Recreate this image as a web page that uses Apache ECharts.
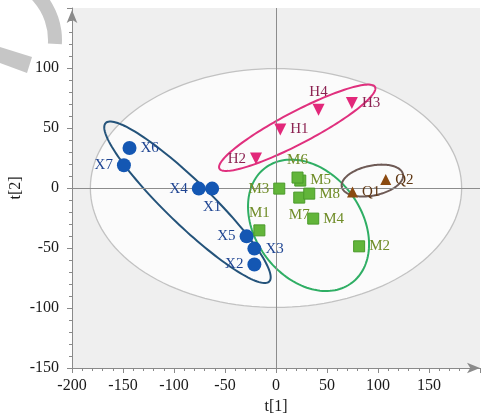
<!DOCTYPE html>
<html>
<head>
<meta charset="utf-8">
<script src="https://cdn.jsdelivr.net/npm/echarts@6/dist/echarts.min.js"></script>
<style>
  html, body { margin: 0; padding: 0; background: #ffffff; }
  #chart { width: 487px; height: 415px; }
</style>
</head>
<body>
<div id="chart"></div>
<script>
// Score plot t[1] / t[2] with group confidence ellipses and the Hotelling T2 region

const xNames = ['X1', 'X2', 'X3', 'X4', 'X5', 'X6', 'X7'];
const xScores = [[-62.6, -0.5], [-21.2, -63.8], [-21.2, -50.5], [-75.7, -0.5], [-28.8, -40.3], [-143.6, 33.3], [-149.1, 18.9]];

const hNames = ['H1', 'H2', 'H3', 'H4'];
const hScores = [[4.2, 48.7], [-19.6, 24.5], [74.4, 70.8], [41.7, 65.3]];

const mNames = ['M1', 'M2', 'M3', 'M4', 'M5', 'M6', 'M7', 'M8'];
const mScores = [[-16.3, -35.3], [81.5, -48.6], [3.2, -0.5], [36.5, -25.5], [23.8, 6.2], [21.1, 8.7], [22.8, -8.0], [32.6, -4.7]];

const qNames = ['Q1', 'Q2'];
const qScores = [[75.0, -3.3], [107.6, 7.0]];

const xTickLabels = [-200, -150, -100, -50, 0, 50, 100, 150];
const yTickLabels = [-150, -100, -50, 0, 50, 100];

// Ellipses: centre (x, y), first semi-axis vector, second semi-axis vector, in score units
const hotellingEllipse = [0, 0, 182, 0, 0, 99.5];
const xEllipse = [-86.8, -11.9, 80.2, -66.0, 15.0, 13.2];
const hEllipse = [20.8, 50.2, 76.3, 34.0, 7.2, -11.8];
const mEllipse = [31.9, -31.1, 42.6, -47.8, 41.3, 26.7];
const qEllipse = [94.5, 6.2, 30.0, 5.25, 2.9, -12.2];

// label side for each sample
const labelSide = {
  X1: 'bottom', X2: 'left', X3: 'right', X4: 'left', X5: 'left', X6: 'right', X7: 'left',
  H1: 'right', H2: 'left', H3: 'right', H4: 'top',
  M1: 'top', M2: 'right', M3: 'left', M4: 'right', M5: 'right', M6: 'top', M7: 'bottom', M8: 'right',
  Q1: 'right', Q2: 'right'
};

const serif = '"Liberation Serif", "Times New Roman", serif';

function ellipseRenderer(style) {
  return function (params, api) {
    const cx = api.value(0), cy = api.value(1);
    const ux = api.value(2), uy = api.value(3);
    const vx = api.value(4), vy = api.value(5);
    const pts = [];
    const n = 144;
    for (let i = 0; i < n; i++) {
      const a = (i / n) * Math.PI * 2;
      const c = Math.cos(a), s = Math.sin(a);
      pts.push(api.coord([cx + ux * c + vx * s, cy + uy * c + vy * s]));
    }
    return { type: 'polygon', shape: { points: pts }, style: Object.assign({}, style) };
  };
}

function ellipseSeries(params, style, z, extra) {
  return Object.assign({
    type: 'custom',
    renderItem: ellipseRenderer(style),
    data: [params],
    dimensions: ['cx', 'cy', 'ux', 'uy', 'vx', 'vy'],
    encode: { x: 0, y: 1 },
    silent: true,
    clip: false,
    z: z
  }, extra || {});
}

function pointSeries(names, scores, symbol, size, color, border, labelColor, rotate) {
  return {
    type: 'scatter',
    symbol: symbol,
    symbolSize: size,
    symbolRotate: rotate || 0,
    itemStyle: { color: color, borderColor: border, borderWidth: border ? 1 : 0, opacity: 1 },
    label: {
      show: true,
      formatter: '{b}',
      color: labelColor,
      fontFamily: serif,
      fontSize: 15,
      distance: 4
    },
    z: 5,
    data: names.map(function (n, i) {
      return { name: n, value: scores[i], label: { position: labelSide[n] } };
    })
  };
}

const chart = echarts.init(document.getElementById('chart'), null, { renderer: 'canvas' });

chart.setOption({
  animation: false,
  backgroundColor: '#ffffff',
  grid: {
    left: 72, right: 7, top: 8, bottom: 47,
    containLabel: false, outerBoundsMode: 'none',
    show: true, backgroundColor: '#efefef', borderWidth: 0
  },
  xAxis: {
    type: 'value', min: -200, max: 200, interval: 50,
    name: 't[1]', nameLocation: 'middle', nameGap: 31,
    nameTextStyle: { fontFamily: serif, fontSize: 16, color: '#1a1a1a' },
    axisLine: {
      show: true, onZero: false,
      symbol: ['none', 'arrow'], symbolSize: [8, 13], symbolOffset: [0, 0],
      lineStyle: { color: '#8a8a8a', width: 1 }
    },
    axisTick: { show: true, length: 5, lineStyle: { color: '#8a8a8a' } },
    minorTick: { show: true, splitNumber: 5, length: 3, lineStyle: { color: '#8a8a8a' } },
    splitLine: { show: false },
    axisLabel: {
      fontFamily: serif, fontSize: 16, color: '#1a1a1a', margin: 10,
      formatter: function (v) { return xTickLabels.indexOf(v) >= 0 ? String(v) : ''; }
    }
  },
  yAxis: {
    type: 'value', min: -150, max: 150, interval: 50,
    name: 't[2]', nameLocation: 'middle', nameGap: 48, nameRotate: 90,
    nameMoveOverlap: false,
    nameTextStyle: { fontFamily: serif, fontSize: 16, color: '#1a1a1a' },
    axisLine: {
      show: true, onZero: false,
      symbol: ['none', 'arrow'], symbolSize: [8, 13], symbolOffset: [0, -2],
      lineStyle: { color: '#8a8a8a', width: 1 }
    },
    axisTick: { show: true, length: 5, lineStyle: { color: '#8a8a8a' } },
    minorTick: { show: true, splitNumber: 5, length: 3, lineStyle: { color: '#8a8a8a' } },
    splitLine: { show: false },
    axisLabel: {
      fontFamily: serif, fontSize: 16, color: '#1a1a1a', margin: 13,
      formatter: function (v) { return yTickLabels.indexOf(v) >= 0 ? String(v) : ''; }
    }
  },
  graphic: [
    {
      type: 'sector',
      shape: { cx: -10, cy: 40, r0: 58, r: 72, startAngle: -1.5, endAngle: 0.06, clockwise: true },
      style: { fill: '#c6c6c6' },
      silent: true
    },
    {
      type: 'polygon',
      shape: { points: [[0, 47], [32, 57], [27, 73], [0, 63]] },
      style: { fill: '#c6c6c6' },
      silent: true
    }
  ],
  series: [
    ellipseSeries(hotellingEllipse, { fill: '#fbfbfb', stroke: '#c2c2c2', lineWidth: 1.3 }, 1, {
      markLine: {
        silent: true,
        symbol: ['none', 'none'],
        label: { show: false },
        lineStyle: { color: '#8c8c8c', width: 1, type: 'solid' },
        data: [{ xAxis: 0 }, { yAxis: 0 }]
      }
    }),
    ellipseSeries(xEllipse, { fill: 'none', stroke: '#24537a', lineWidth: 2 }, 3),
    ellipseSeries(hEllipse, { fill: 'none', stroke: '#e0307e', lineWidth: 2 }, 3),
    ellipseSeries(mEllipse, { fill: 'none', stroke: '#2fae64', lineWidth: 2 }, 3),
    ellipseSeries(qEllipse, { fill: 'none', stroke: '#6e5a55', lineWidth: 2 }, 3),
    pointSeries(xNames, xScores, 'circle', 14, '#1457b3', null, '#1f4592'),
    pointSeries(hNames, hScores, 'triangle', 12, '#e2287a', null, '#8c2352', 180),
    pointSeries(mNames, mScores, 'rect', 11, '#62b53a', '#4a9a2a', '#6f8c27'),
    pointSeries(qNames, qScores, 'triangle', 11, '#8b4a10', null, '#5e3612')
  ]
});
</script>
</body>
</html>
